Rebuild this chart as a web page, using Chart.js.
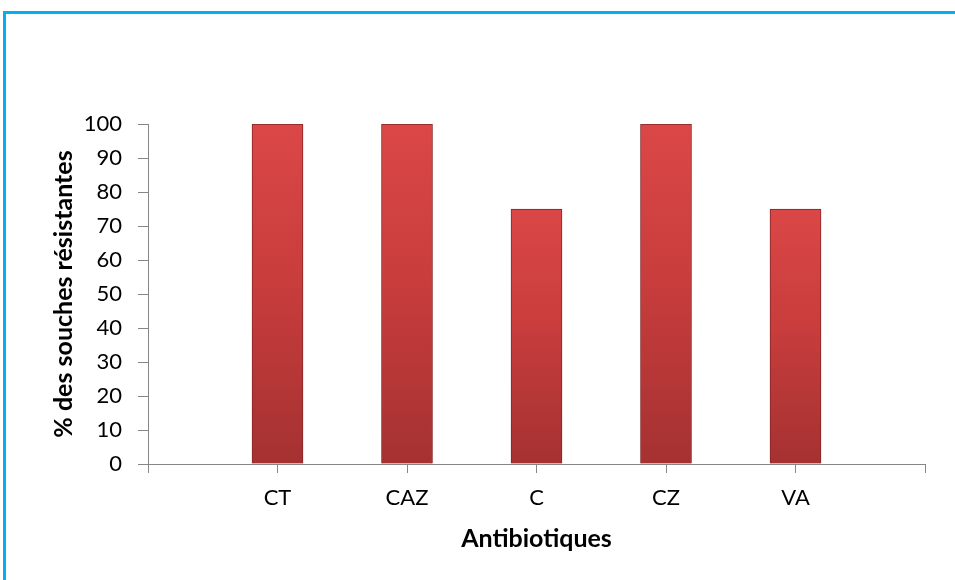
<!DOCTYPE html>
<html>
<head>
<meta charset="utf-8">
<script src="https://cdn.jsdelivr.net/npm/chart.js@4"></script>
<style>
  html, body { margin: 0; padding: 0; background: #fff; overflow: hidden; }
  #wrap { position: relative; width: 955px; height: 580px; }
  #frame { position: absolute; left: 3px; top: 11px; width: 2000px; height: 2000px;
           border: 3px solid #00B0F0; pointer-events: none; }
</style>
</head>
<body>
<div id="wrap">
  <canvas id="chart"></canvas>
  <div id="frame"></div>
</div>
<script>
// categories (blank at both ends, labels sit on the tick marks)
var categories = ['', 'CT', 'CAZ', 'C', 'CZ', 'VA', ''];
// % des souches résistantes
var resistantPct = [null, 100, 100, 75, 100, 75, null];
var yMin = 0, yMax = 100, yStep = 10;

var axisGrey = '#868686';

// gradient runs from the top of each bar down to its base
function barFill(context) {
    var chart = context.chart;
    var yScale = chart.scales.y;
    var v = context.raw;
    if (!chart.chartArea || !yScale || v == null) return '#C83C3C';
    var top = yScale.getPixelForValue(v);
    var base = yScale.getPixelForValue(0);
    var g = chart.ctx.createLinearGradient(0, top, 0, base);
    g.addColorStop(0, '#DB4747');
    g.addColorStop(0.45, '#C93D3D');
    g.addColorStop(1, '#A53131');
    return g;
}

var ctx = document.getElementById('chart').getContext('2d');
var chart = new Chart(ctx, {
    type: 'bar',
    data: {
        labels: categories,
        datasets: [{
            data: resistantPct,
            backgroundColor: barFill,
            borderColor: '#842424',
            borderWidth: 1,
            barThickness: 51,
        }]
    },
    options: {
        responsive: true,
        maintainAspectRatio: false,
        animation: false,
        layout: { padding: { top: 124, right: 30, bottom: 0, left: 0 } },
        plugins: {
            legend: { display: false },
            tooltip: { enabled: false },
        },
        scales: {
            x: {
                offset: false,
                grid: { offset: false, drawOnChartArea: false, drawTicks: true, tickLength: 9, color: axisGrey },
                border: { color: axisGrey, width: 1 },
                ticks: { color: '#000', padding: 12, maxRotation: 0, autoSkip: false,
                         font: { family: 'Lato', size: 22 } },
                title: { display: true, text: 'Antibiotiques', color: '#000',
                         padding: { top: 0, bottom: 26 },
                         font: { family: 'Lato', size: 25, weight: 'bold' } },
                afterFit: function(scale) { scale.height = 116; }
            },
            y: {
                min: yMin,
                max: yMax,
                grid: { drawOnChartArea: false, drawTicks: true, tickLength: 10, color: axisGrey },
                border: { color: axisGrey, width: 1 },
                ticks: { stepSize: yStep, color: '#000', padding: 16,
                         font: { family: 'Lato', size: 22 } },
                title: { display: true, text: '% des souches résistantes', color: '#000',
                         padding: { top: 49, bottom: 0 },
                         font: { family: 'Lato', size: 25, weight: 'bold' } },
                afterFit: function(scale) { scale.width = 148; }
            }
        }
    }
});
</script>
</body>
</html>
